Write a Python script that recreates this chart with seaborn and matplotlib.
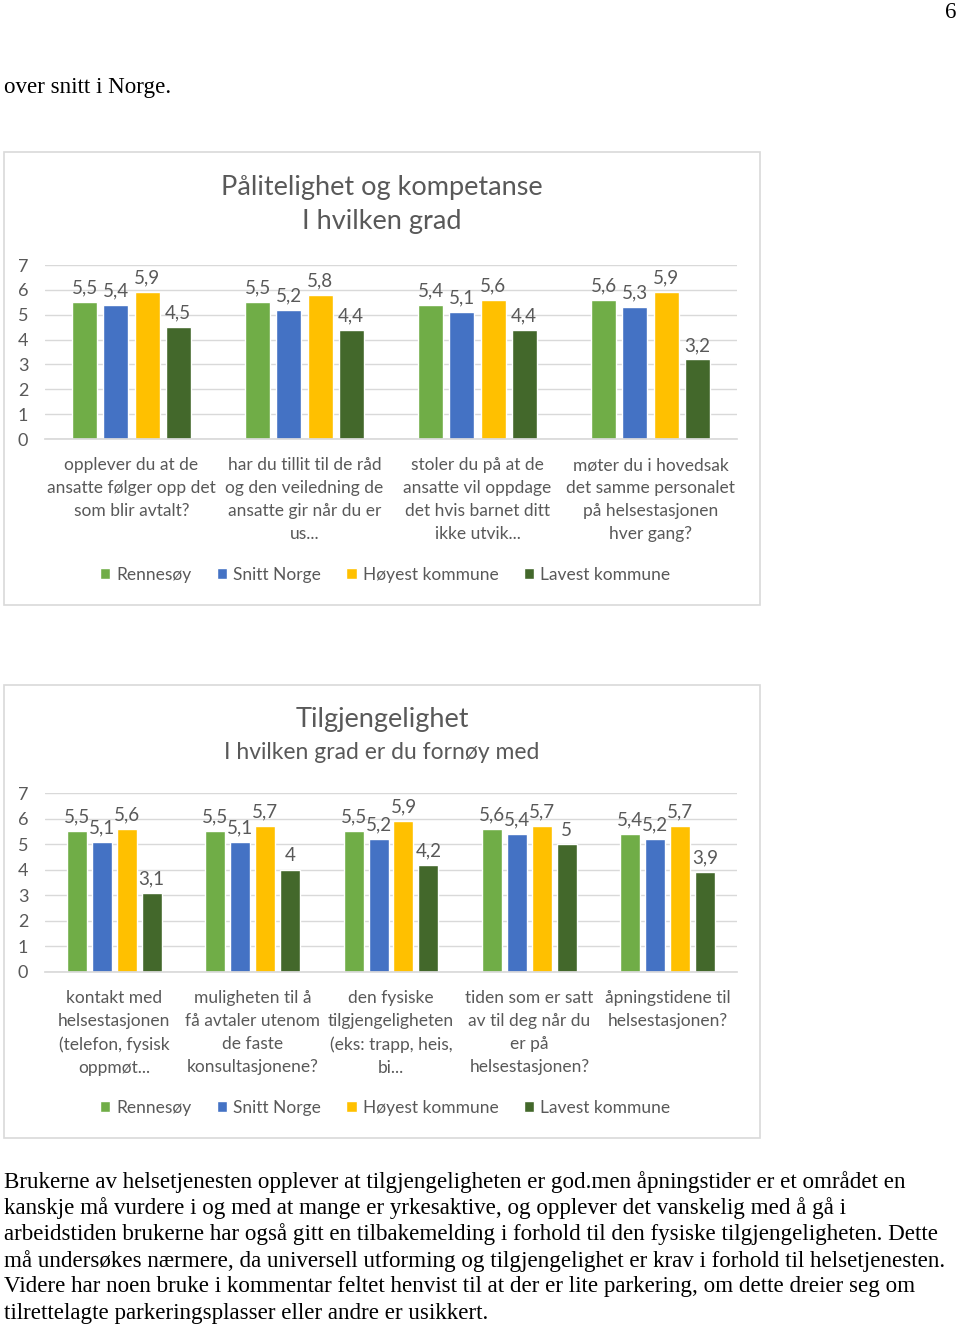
import pandas as pd
import matplotlib.pyplot as plt
import seaborn as sns
from matplotlib.patches import Rectangle

sns.set_theme(style="white")
plt.rcParams['font.family'] = ['Lato', 'DejaVu Sans']

W, H = 960, 1327
GRAY = "#595959"
LINE = "#D9D9D9"

grupper = ["Rennesøy", "Snitt Norge", "Høyest kommune", "Lavest kommune"]
farger = ["#70AD47", "#4472C4", "#FFC000", "#43682B"]

# Diagram 1: Pålitelighet og kompetanse
sporsmal_1 = [
    "opplever du at de\nansatte følger opp det\nsom blir avtalt?",
    "har du tillit til de råd\nog den veiledning de\nansatte gir når du er\nus...",
    "stoler du på at de\nansatte vil oppdage\ndet hvis barnet ditt\nikke utvik...",
    "møter du i hovedsak\ndet samme personalet\npå helsestasjonen\nhver gang?",
]
rennesoy_1 = [5.5, 5.5, 5.4, 5.6]
snitt_1 = [5.4, 5.2, 5.1, 5.3]
hoyest_1 = [5.9, 5.8, 5.6, 5.9]
lavest_1 = [4.5, 4.4, 4.4, 3.2]

# Diagram 2: Tilgjengelighet
sporsmal_2 = [
    "kontakt med\nhelsestasjonen\n(telefon, fysisk\noppmøt...",
    "muligheten til å\nfå avtaler utenom\nde faste\nkonsultasjonene?",
    "den fysiske\ntilgjengeligheten\n(eks: trapp, heis,\nbi...",
    "tiden som er satt\nav til deg når du\ner på\nhelsestasjonen?",
    "åpningstidene til\nhelsestasjonen?",
]
rennesoy_2 = [5.5, 5.5, 5.5, 5.6, 5.4]
snitt_2 = [5.1, 5.1, 5.2, 5.4, 5.2]
hoyest_2 = [5.6, 5.7, 5.9, 5.7, 5.7]
lavest_2 = [3.1, 4.0, 4.2, 5.0, 3.9]

intro = "over snitt i Norge."
avsnitt = [
    "Brukerne av helsetjenesten opplever at tilgjengeligheten er god.men åpningstider er et området en",
    "kanskje må vurdere i og med at mange er yrkesaktive, og opplever det vanskelig med å gå i",
    "arbeidstiden brukerne har også gitt en tilbakemelding i forhold til den fysiske tilgjengeligheten. Dette",
    "må undersøkes nærmere, da universell utforming og tilgjengelighet er krav i forhold til helsetjenesten.",
    "Videre har noen bruke i kommentar feltet henvist til at der er lite parkering, om dette dreier seg om",
    "tilrettelagte parkeringsplasser eller andre er usikkert.",
]

fig = plt.figure(figsize=(W / 100, H / 100), dpi=100)


def fy(y):
    return 1 - y / H


def tegn_diagram(box, area, titler, sporsmal, serier, legend_y):
    x0, y0, x1, y1 = box
    fig.patches.append(Rectangle((x0 / W, fy(y1)), (x1 - x0) / W, (y1 - y0) / H,
                                 transform=fig.transFigure, fill=False,
                                 edgecolor=LINE, linewidth=1.2))
    for tekst, y, size in titler:
        fig.text(382 / W, fy(y), tekst, ha="center", va="center",
                 fontsize=size, color=GRAY)

    left, top, right, bottom = area
    ax = fig.add_axes([left / W, fy(bottom), (right - left) / W, (bottom - top) / H])
    rows = []
    for gruppe, verdier in zip(grupper, serier):
        for s, v in zip(sporsmal, verdier):
            rows.append({"spørsmål": s, "gruppe": gruppe, "verdi": v})
    df = pd.DataFrame(rows)
    sns.barplot(data=df, x="spørsmål", y="verdi", hue="gruppe", order=sporsmal,
                hue_order=grupper, palette=farger, width=0.72, gap=0.2,
                saturation=1, errorbar=None, ax=ax)
    for cont in ax.containers:
        labels = [f"{b.get_height():g}".replace(".", ",") for b in cont]
        ax.bar_label(cont, labels=labels, padding=4, fontsize=13.5, color=GRAY)

    handles, labels = ax.get_legend_handles_labels()
    ax.get_legend().remove()
    fig.legend(handles, labels, loc="center", bbox_to_anchor=(385 / W, fy(legend_y)),
               ncol=4, frameon=False, handlelength=0.6, handleheight=0.6,
               handletextpad=0.35, columnspacing=1.45, labelcolor=GRAY,
               prop={"size": 12.5})

    ax.set_ylim(0, 7)
    ax.set_yticks(range(0, 8))
    ax.yaxis.grid(True, color=LINE, linewidth=1)
    ax.set_axisbelow(True)
    for side in ["top", "right", "left"]:
        ax.spines[side].set_visible(False)
    ax.spines["bottom"].set_color(LINE)
    ax.set_xlabel("")
    ax.set_ylabel("")
    ax.tick_params(axis="y", length=0, pad=12, labelsize=13, labelcolor=GRAY)
    ax.tick_params(axis="x", length=0, pad=13, labelsize=12.5, labelcolor=GRAY)
    for t in ax.get_xticklabels():
        t.set_linespacing(1.53)
    ax.set_facecolor("white")
    return ax


tegn_diagram((4, 152, 760, 605), (45, 265, 737, 439),
             [("Pålitelighet og kompetanse", 187, 19.5), ("I hvilken grad", 222, 19.5)],
             sporsmal_1, [rennesoy_1, snitt_1, hoyest_1, lavest_1], 575)

tegn_diagram((4, 685, 760, 1138), (45, 793, 737, 972),
             [("Tilgjengelighet", 720, 19.5), ("I hvilken grad er du fornøy med", 753, 16.5)],
             sporsmal_2, [rennesoy_2, snitt_2, hoyest_2, lavest_2], 1108)

serif = ["Liberation Serif", "DejaVu Serif"]
fig.text(956 / W, fy(13), "6", ha="right", va="center", fontsize=16.5, family=serif, color="black")
fig.text(4 / W, fy(88), intro, ha="left", va="center", fontsize=16.6, family=serif, color="black")
for i, linje in enumerate(avsnitt):
    fig.text(4 / W, fy(1182 + i * 26.2), linje, ha="left", va="center",
             fontsize=16.6, family=serif, color="black")

fig.savefig("out.png", dpi=100, facecolor="white")
